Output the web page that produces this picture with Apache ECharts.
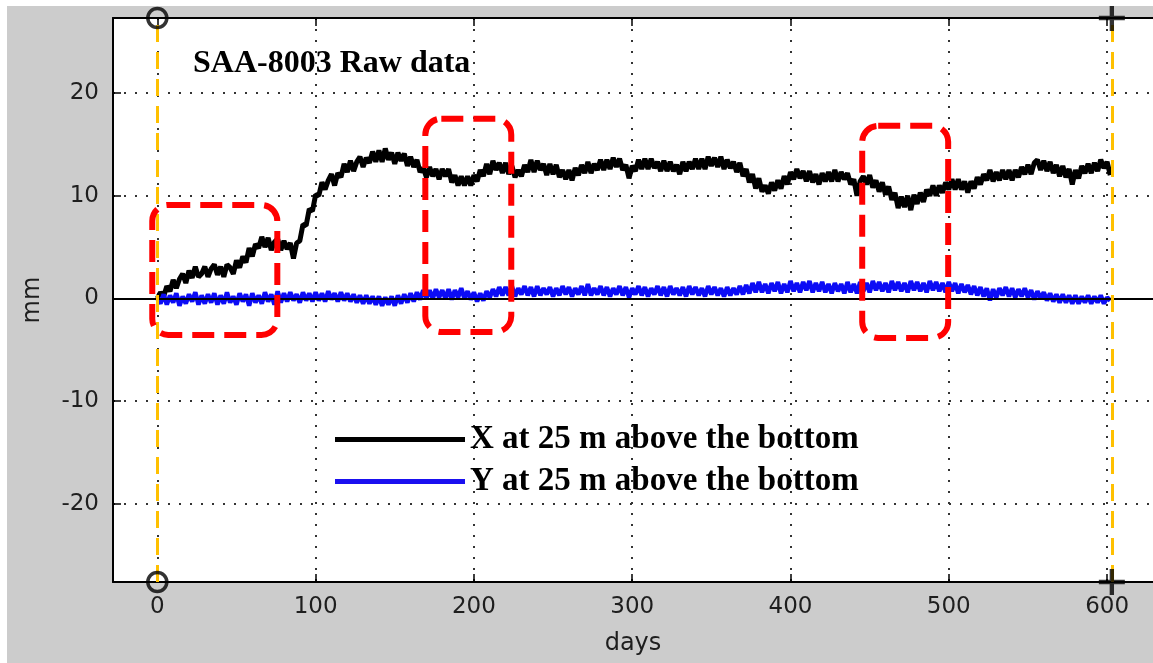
<!DOCTYPE html>
<html>
<head>
<meta charset="utf-8">
<script src="https://cdn.jsdelivr.net/npm/echarts@6/dist/echarts.min.js"></script>
<style>
html,body{margin:0;padding:0;background:#ffffff;width:1153px;height:663px;overflow:hidden;}
#c{position:absolute;left:7px;top:6px;width:1146px;height:657px;}
</style>
</head>
<body>
<div id="c"></div>
<script>
// ---- data ----
const FIRST_DAY = 0;
const DAY_STEP = 2;
const X_TICKS = [0, 100, 200, 300, 400, 500, 600];
const Y_TICKS = [-20, -10, 0, 10, 20];
const SERIES_NAMES = ['X at 25 m above the bottom', 'Y at 25 m above the bottom'];
const TITLE_TEXT = 'SAA-8003 Raw data';
// X displacement (mm), one value every DAY_STEP days from FIRST_DAY
const X_MM = [
 0.0, 0.6, 0.2, 1.2, 0.7, 1.8, 1.0, 1.9, 2.4, 1.5,
 2.7, 2.0, 3.1, 2.1, 2.4, 3.1, 2.1, 2.9, 3.3, 2.3,
 3.1, 2.1, 3.3, 3.0, 2.4, 3.7, 3.0, 4.1, 3.5, 4.9,
 4.1, 5.3, 4.9, 6.0, 5.0, 5.9, 4.7, 5.5, 5.8, 4.7,
 5.6, 4.8, 5.4, 3.9, 5.4, 5.6, 7.2, 7.1, 8.7, 8.5,
 10.1, 10.0, 11.3, 10.6, 11.5, 12.1, 11.0, 12.2, 11.8, 13.1,
 12.3, 13.4, 12.4, 13.3, 13.8, 12.8, 13.7, 13.2, 14.3, 13.3,
 14.4, 13.3, 14.6, 13.5, 14.2, 13.1, 14.2, 13.4, 14.1, 12.9,
 13.8, 12.8, 13.5, 12.3, 12.7, 11.8, 12.8, 11.9, 12.6, 11.6,
 12.6, 11.9, 12.6, 11.3, 12.0, 11.0, 11.9, 11.0, 11.9, 11.0,
 12.0, 11.4, 12.5, 11.9, 13.1, 12.1, 13.4, 12.5, 13.2, 12.2,
 13.2, 12.1, 12.9, 11.8, 12.5, 11.9, 13.0, 12.3, 13.5, 12.3,
 13.4, 12.5, 13.1, 12.0, 13.1, 12.1, 13.0, 11.8, 12.5, 11.6,
 12.5, 11.5, 12.7, 12.0, 13.0, 12.2, 13.3, 12.2, 13.1, 12.5,
 13.5, 12.5, 13.5, 12.6, 13.7, 12.8, 13.6, 12.5, 13.0, 11.7,
 12.9, 12.4, 13.5, 12.6, 13.6, 12.6, 13.6, 12.7, 13.3, 12.4,
 13.4, 12.4, 13.3, 12.4, 13.0, 12.1, 13.3, 12.4, 13.3, 12.6,
 13.6, 12.6, 13.6, 12.6, 13.8, 12.9, 13.7, 12.8, 13.8, 12.6,
 13.5, 12.7, 13.3, 12.3, 13.2, 11.9, 12.6, 11.3, 12.1, 10.7,
 11.7, 10.4, 11.0, 10.2, 11.3, 10.5, 11.5, 10.7, 11.9, 11.1,
 12.3, 11.6, 12.6, 11.7, 12.4, 11.4, 12.4, 11.3, 12.1, 11.1,
 12.2, 11.4, 12.3, 11.4, 12.5, 11.4, 12.3, 11.6, 12.2, 11.1,
 11.6, 10.0, 11.4, 11.9, 11.1, 12.0, 10.8, 11.5, 10.4, 11.3,
 10.1, 10.9, 9.6, 10.3, 8.8, 9.9, 8.9, 10.0, 8.6, 10.1,
 9.2, 10.3, 9.4, 10.6, 10.0, 11.0, 10.0, 11.0, 10.3, 11.3,
 10.6, 11.6, 10.6, 11.6, 10.6, 11.4, 10.3, 11.4, 10.7, 11.8,
 11.1, 12.1, 11.5, 12.5, 11.4, 12.3, 11.5, 12.5, 11.6, 12.5,
 11.5, 12.5, 11.8, 12.8, 12.1, 13.0, 12.1, 13.2, 13.5, 12.5,
 13.4, 12.4, 13.3, 12.2, 13.0, 11.9, 12.9, 11.8, 12.6, 11.1,
 12.5, 11.7, 12.9, 12.2, 13.1, 12.2, 13.2, 12.4, 13.5, 12.7,
 13.3, 12.0
];
// Y displacement (mm), same sampling
const Y_MM = [
 0.0, -0.5, 0.4, -0.6, 0.3, -0.4, 0.5, -0.7, 0.2, -0.5,
 0.4, -0.3, 0.6, -0.6, 0.3, -0.5, 0.4, -0.4, 0.5, -0.6,
 0.3, -0.5, 0.6, -0.4, 0.2, -0.6, 0.5, -0.3, 0.4, -0.7,
 0.5, -0.4, 0.3, -0.5, 0.6, -0.3, 0.4, -0.6, 0.7, -0.4,
 0.5, -0.3, 0.6, -0.2, 0.4, -0.4, 0.6, -0.2, 0.5, -0.3,
 0.6, -0.2, 0.5, -0.3, 0.7, -0.1, 0.5, -0.3, 0.6, -0.2,
 0.5, -0.3, 0.4, -0.4, 0.3, -0.5, 0.3, -0.5, 0.2, -0.6,
 0.2, -0.7, 0.1, -0.6, 0.2, -0.7, 0.3, -0.5, 0.4, -0.4,
 0.5, -0.3, 0.6, -0.1, 0.8, 0.0, 0.8, 0.0, 0.9, 0.1,
 0.8, 0.0, 0.9, -0.1, 0.8, 0.1, 1.0, 0.0, 0.7, -0.1,
 0.6, -0.3, 0.5, -0.2, 0.7, 0.1, 0.9, 0.2, 1.1, 0.3,
 1.1, 0.3, 1.2, 0.2, 1.0, 0.4, 1.2, 0.3, 1.1, 0.2,
 1.2, 0.3, 1.0, 0.4, 1.1, 0.2, 1.0, 0.3, 1.2, 0.4,
 1.1, 0.2, 1.0, 0.4, 1.2, 0.3, 1.4, 0.3, 1.0, 0.4,
 1.2, 0.3, 1.1, 0.2, 1.0, 0.4, 1.2, 0.3, 1.1, 0.1,
 1.0, 0.4, 1.2, 0.3, 1.1, 0.2, 1.0, 0.4, 1.2, 0.3,
 1.1, 0.2, 1.2, 0.4, 1.0, 0.3, 1.1, 0.2, 1.2, 0.4,
 1.1, 0.3, 1.0, 0.2, 1.2, 0.4, 1.1, 0.3, 1.0, 0.2,
 1.1, 0.3, 1.0, 0.4, 1.2, 0.4, 1.3, 0.5, 1.5, 0.6,
 1.6, 0.6, 1.4, 0.5, 1.5, 0.7, 1.6, 0.5, 1.4, 0.6,
 1.7, 0.7, 1.5, 0.6, 1.6, 0.8, 1.7, 0.6, 1.5, 0.7,
 1.6, 0.6, 1.4, 0.5, 1.5, 0.7, 1.4, 0.5, 1.6, 0.6,
 1.4, 0.5, 1.6, 0.7, 1.5, 0.6, 1.7, 0.8, 1.6, 0.7,
 1.5, 0.6, 1.7, 0.8, 1.6, 0.7, 1.5, 0.6, 1.7, 0.8,
 1.6, 0.7, 1.5, 0.6, 1.7, 0.8, 1.6, 0.7, 1.5, 0.6,
 1.6, 0.7, 1.5, 0.5, 1.4, 0.6, 1.3, 0.4, 1.2, 0.3,
 1.1, 0.2, 1.0, -0.2, 0.9, 0.1, 1.0, 0.3, 1.1, 0.2,
 1.0, 0.1, 0.9, 0.2, 1.0, 0.1, 0.8, -0.1, 0.7, 0.0,
 0.6, -0.2, 0.5, -0.3, 0.4, -0.4, 0.4, -0.4, 0.3, -0.5,
 0.3, -0.5, 0.2, -0.4, 0.3, -0.5, 0.2, -0.4, 0.3, -0.5,
 0.1, -0.2
];
// Highlight boxes: [dayStart, dayEnd, mmBottom, mmTop]
const BOXES = [
 [-3.2, 75.8, -3.55, 9.1],
 [169.3, 223.6, -3.26, 17.5],
 [445.3, 499.6, -3.84, 16.8]
];
// Record start / end days (yellow dashed markers)
const RECORD_DAYS = [0, 603];
const X_RANGE = [-28, 629];
const Y_RANGE = [-27.6, 27.3];

// ---- build ----
const days = X_MM.map((_, i) => FIRST_DAY + i * DAY_STEP);
const xData = days.map((d, i) => [d, X_MM[i]]);
const yData = days.map((d, i) => [d, Y_MM[i]]);

const chart = echarts.init(document.getElementById('c'));
const labelFont = {fontFamily: 'DejaVu Sans', fontSize: 23, color: '#1e1e1e'};
const gridDots = {show: true, lineStyle: {color: '#333333', width: 2, type: [2, 9]}};

const option = {
  backgroundColor: '#cccccc',
  animation: false,
  title: {
    text: TITLE_TEXT, left: 186, top: 42, padding: 0,
    textStyle: {fontFamily: 'Liberation Serif', fontWeight: 'bold', fontSize: 32, color: '#000'}
  },
  legend: {
    orient: 'vertical', left: 328, top: 417, padding: 0,
    icon: 'rect', itemWidth: 130, itemHeight: 5, itemGap: 9,
    data: SERIES_NAMES,
    textStyle: {fontFamily: 'Liberation Serif', fontWeight: 'bold', fontSize: 33, lineHeight: 33, color: '#000'}
  },
  grid: {left: 106, top: 12, bottom: 81, right: 0, backgroundColor: '#ffffff', show: true, borderWidth: 0},
  xAxis: [{
    type: 'value', min: X_RANGE[0], max: X_RANGE[1], position: 'bottom',
    name: 'days', nameLocation: 'middle', nameGap: 50,
    nameTextStyle: {fontFamily: 'DejaVu Sans', fontSize: 24, color: '#1e1e1e'},
    axisLine: {show: true, onZero: false, lineStyle: {color: '#000', width: 2}},
    axisTick: {show: true, inside: true, length: 8, customValues: X_TICKS, lineStyle: {color: '#000', width: 1.5}},
    axisLabel: Object.assign({show: true, margin: 14, customValues: X_TICKS, showMinLabel: true}, labelFont),
    splitLine: gridDots
  }, {
    type: 'value', min: X_RANGE[0], max: X_RANGE[1], position: 'top',
    axisLine: {show: true, onZero: false, lineStyle: {color: '#000', width: 2}},
    axisTick: {show: true, inside: true, length: 8, customValues: X_TICKS, lineStyle: {color: '#000', width: 1.5}},
    axisLabel: {show: false},
    splitLine: {show: false}
  }],
  yAxis: [{
    type: 'value', min: Y_RANGE[0], max: Y_RANGE[1], position: 'left',
    name: 'mm', nameLocation: 'middle', nameGap: 68, nameRotate: 90,
    nameTextStyle: {fontFamily: 'DejaVu Sans', fontSize: 24, color: '#1e1e1e'},
    axisLine: {show: true, onZero: false, lineStyle: {color: '#000', width: 2}},
    axisTick: {show: true, inside: true, length: 8, customValues: Y_TICKS, lineStyle: {color: '#000', width: 1.5}},
    axisLabel: Object.assign({show: true, margin: 14, customValues: Y_TICKS}, labelFont),
    splitLine: gridDots
  }],
  series: [
    {
      name: SERIES_NAMES[0], type: 'line', data: xData, showSymbol: false, symbol: 'none',
      color: '#000000', lineStyle: {color: '#000000', width: 5}, z: 3,
      markLine: {
        silent: true, symbol: 'none', label: {show: false},
        lineStyle: {color: '#000', width: 2, type: 'solid'},
        data: [{yAxis: 0}]
      }
    },
    {
      name: SERIES_NAMES[1], type: 'line', data: yData, showSymbol: false, symbol: 'none',
      color: '#1a10f0', lineStyle: {color: '#0c0cf5', width: 4.5}, z: 4
    },
    {
      type: 'custom', name: 'boxes', data: BOXES, z: 6, silent: true,
      renderItem: function (params, api) {
        const p0 = api.coord([api.value(0), api.value(3)]);
        const p1 = api.coord([api.value(1), api.value(2)]);
        return {
          type: 'rect',
          shape: {x: p0[0], y: p0[1], width: p1[0] - p0[0], height: p1[1] - p0[1], r: 16},
          style: {fill: 'none', stroke: '#ff0000', lineWidth: 6, lineDash: [22, 10]}
        };
      }
    },
    {
      type: 'line', name: 'record', data: [], z: 7, silent: true,
      markLine: {
        silent: true, symbol: 'none', label: {show: false},
        lineStyle: {color: '#ffc000', width: 3, type: [17, 10]},
        data: RECORD_DAYS.map(d => ({xAxis: d}))
      }
    },
    {
      type: 'scatter', name: 'startMarks', z: 8, silent: true, clip: false,
      data: [[RECORD_DAYS[0], Y_RANGE[1]], [RECORD_DAYS[0], Y_RANGE[0]]],
      symbol: 'circle', symbolSize: 19,
      itemStyle: {color: 'rgba(0,0,0,0)', borderColor: '#000', borderWidth: 3.5}
    },
    {
      type: 'scatter', name: 'endMarks', z: 8, silent: true, clip: false,
      data: [[RECORD_DAYS[1], Y_RANGE[1]], [RECORD_DAYS[1], Y_RANGE[0]]],
      symbol: 'path://M-2,-12 L2,-12 L2,-2 L12,-2 L12,2 L2,2 L2,12 L-2,12 L-2,2 L-12,2 L-12,-2 L-2,-2 Z',
      symbolSize: 26, symbolKeepAspect: true,
      itemStyle: {color: '#000'}
    }
  ]
};
chart.setOption(option);
</script>
</body>
</html>
